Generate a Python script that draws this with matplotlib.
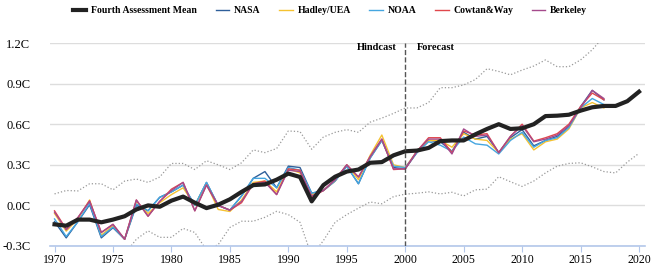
import numpy as np
import matplotlib
matplotlib.use("Agg")
import matplotlib.pyplot as plt

plt.rcParams['font.family'] = ['Liberation Serif', 'DejaVu Serif']

years = np.arange(1970, 2021)
obs_years = np.arange(1970, 2018)

# Fourth Assessment mean (1970-2020)
mean = [-0.14, -0.15, -0.105, -0.105, -0.125, -0.105, -0.08, -0.03, 0.0, -0.01,
        0.035, 0.065, 0.02, -0.02, 0.005, 0.045, 0.10, 0.15, 0.155, 0.19,
        0.235, 0.21, 0.03, 0.15, 0.212, 0.25, 0.265, 0.315, 0.32, 0.37,
        0.40, 0.405, 0.425, 0.475, 0.48, 0.48, 0.525, 0.565, 0.60, 0.565,
        0.57, 0.60, 0.66, 0.663, 0.67, 0.70, 0.725, 0.735, 0.735, 0.77, 0.84]

upper = [0.085, 0.11, 0.107, 0.16, 0.16, 0.115, 0.18, 0.195, 0.17, 0.21,
         0.31, 0.31, 0.265, 0.33, 0.30, 0.265, 0.315, 0.41, 0.39, 0.42,
         0.55, 0.545, 0.415, 0.505, 0.54, 0.56, 0.54, 0.615, 0.645, 0.68,
         0.72, 0.72, 0.76, 0.87, 0.87, 0.89, 0.93, 1.01, 0.99, 0.965,
         1.0, 1.03, 1.075, 1.025, 1.025, 1.075, 1.15, 1.25, 1.26, 1.30, 1.38]

lower = [-0.45, -0.43, -0.44, -0.40, -0.45, -0.42, -0.36, -0.25, -0.188, -0.236,
         -0.236, -0.17, -0.20, -0.33, -0.29, -0.163, -0.117, -0.117, -0.088, -0.044,
         -0.068, -0.125, -0.375, -0.26, -0.125, -0.068, -0.02, 0.025, 0.012, 0.065,
         0.083, 0.09, 0.10, 0.085, 0.097, 0.07, 0.115, 0.12, 0.212, 0.175,
         0.14, 0.18, 0.24, 0.29, 0.31, 0.315, 0.285, 0.25, 0.24, 0.32, 0.385]

nasa = [-0.12, -0.24, -0.12, 0.005, -0.24, -0.165, -0.25, 0.0, -0.04, 0.06,
        0.10, 0.15, 0.0, 0.17, 0.0, -0.035, 0.07, 0.20, 0.25, 0.13,
        0.29, 0.28, 0.09, 0.11, 0.18, 0.29, 0.16, 0.35, 0.48, 0.28,
        0.27, 0.39, 0.48, 0.47, 0.40, 0.54, 0.49, 0.51, 0.39, 0.50,
        0.56, 0.44, 0.48, 0.51, 0.58, 0.73, 0.85, 0.78]

hadley = [-0.06, -0.19, -0.10, 0.04, -0.22, -0.15, -0.25, 0.03, -0.06, 0.02,
          0.08, 0.13, 0.0, 0.16, -0.03, -0.045, 0.04, 0.17, 0.18, 0.10,
          0.27, 0.24, 0.08, 0.11, 0.18, 0.30, 0.19, 0.37, 0.52, 0.30,
          0.28, 0.40, 0.48, 0.48, 0.43, 0.53, 0.49, 0.48, 0.39, 0.49,
          0.53, 0.41, 0.47, 0.49, 0.565, 0.72, 0.76, 0.72]

noaa = [-0.10, -0.23, -0.12, 0.015, -0.23, -0.16, -0.25, 0.01, -0.04, 0.06,
        0.10, 0.15, 0.0, 0.17, 0.0, -0.035, 0.07, 0.20, 0.20, 0.13,
        0.28, 0.26, 0.09, 0.11, 0.18, 0.29, 0.16, 0.35, 0.48, 0.29,
        0.28, 0.39, 0.47, 0.445, 0.40, 0.505, 0.455, 0.445, 0.38, 0.48,
        0.54, 0.43, 0.48, 0.50, 0.575, 0.72, 0.79, 0.745]

cowtan = [-0.04, -0.175, -0.09, 0.035, -0.20, -0.14, -0.25, 0.04, -0.08, 0.03,
          0.12, 0.17, -0.04, 0.15, 0.0, -0.035, 0.02, 0.16, 0.18, 0.08,
          0.27, 0.26, 0.06, 0.11, 0.19, 0.30, 0.21, 0.36, 0.49, 0.265,
          0.27, 0.40, 0.50, 0.50, 0.39, 0.55, 0.52, 0.53, 0.39, 0.51,
          0.60, 0.475, 0.50, 0.53, 0.60, 0.73, 0.83, 0.78]

berkeley = [-0.05, -0.18, -0.09, 0.03, -0.20, -0.14, -0.25, 0.04, -0.08, 0.03,
            0.11, 0.17, -0.04, 0.15, 0.0, -0.035, 0.03, 0.16, 0.17, 0.08,
            0.26, 0.25, 0.07, 0.11, 0.19, 0.30, 0.21, 0.36, 0.49, 0.27,
            0.27, 0.40, 0.49, 0.49, 0.38, 0.565, 0.51, 0.52, 0.39, 0.51,
            0.59, 0.47, 0.49, 0.52, 0.59, 0.72, 0.85, 0.79]

yticks = [-0.3, 0.0, 0.3, 0.6, 0.9, 1.2]
ytick_labels = ['-0.3C', '0.0C', '0.3C', '0.6C', '0.9C', '1.2C']
xticks = [1970, 1975, 1980, 1985, 1990, 1995, 2000, 2005, 2010, 2015, 2020]

fig = plt.figure(figsize=(6.56, 2.65), dpi=100)
ax = fig.add_axes([0.076, 0.0717, 0.907, 0.766])

# envelopes
ax.plot(years, upper, color='#999999', linestyle=':', linewidth=0.9, zorder=2)
ax.plot(years, lower, color='#999999', linestyle=':', linewidth=0.9, zorder=2)

ax.plot(years, mean, color='#222222', linewidth=3.0, zorder=5,
        label='Fourth Assessment Mean')
ax.plot(obs_years, nasa, color='#2e5f9a', linewidth=1.0, zorder=3, label='NASA')
ax.plot(obs_years, hadley, color='#f5c231', linewidth=1.0, zorder=3, label='Hadley/UEA')
ax.plot(obs_years, noaa, color='#45a6e0', linewidth=1.0, zorder=3, label='NOAA')
ax.plot(obs_years, cowtan, color='#e0474c', linewidth=1.0, zorder=4, label='Cowtan&Way')
ax.plot(obs_years, berkeley, color='#a54a8c', linewidth=1.0, zorder=4, label='Berkeley')

# hindcast / forecast divider
ax.axvline(2000, color='#555555', linestyle='--', linewidth=1.0, zorder=6)
ax.text(1999.3, 1.17, 'Hindcast', ha='right', va='center', fontsize=7.5, fontweight='bold')
ax.text(2001.0, 1.17, 'Forecast', ha='left', va='center', fontsize=7.5, fontweight='bold')

ax.set_xlim(1969.6, 2020.5)
ax.set_ylim(-0.3, 1.2)
ax.set_yticks(yticks)
ax.set_yticklabels(ytick_labels)
ax.set_xticks(xticks)
ax.grid(axis='y', color='#dddddd', linewidth=1.0)
ax.set_axisbelow(True)
for s in ['top', 'right', 'left']:
    ax.spines[s].set_visible(False)
ax.spines['bottom'].set_color('#b3c7ea')
ax.spines['bottom'].set_linewidth(1.2)
ax.tick_params(axis='y', length=0, labelsize=9, pad=14)
ax.tick_params(axis='x', length=4, color='#b3c7ea', labelsize=8.5, pad=1.5)

handles, labels = ax.get_legend_handles_labels()
fig.legend(handles, labels, loc='upper center', bbox_to_anchor=(0.503, 1.01), ncol=6,
           frameon=False, prop={'weight': 'bold', 'size': 7}, handlelength=1.4,
           columnspacing=1.9, handletextpad=0.5)

fig.savefig('out.png', dpi=100)
